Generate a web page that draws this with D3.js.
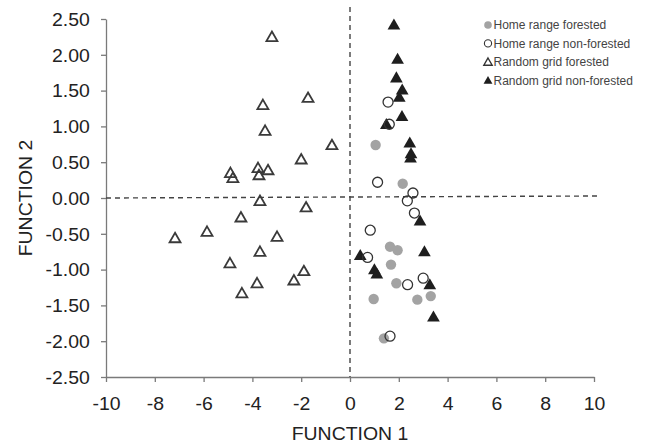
<!DOCTYPE html>
<html>
<head>
<meta charset="utf-8">
<script src="https://cdn.jsdelivr.net/npm/d3@7"></script>
<style>
  body { margin: 0; background: #fff; }
  svg { font-family: "Liberation Sans", Arial, sans-serif; }
</style>
</head>
<body>
<svg id="chart" width="648" height="444"></svg>
<script>
// donnees : [fonction 1, fonction 2]
const homeForested = [
  [1.05, 0.74], [2.16, 0.20], [1.64, -0.68], [1.95, -0.73], [1.68, -0.93],
  [1.90, -1.19], [0.97, -1.41], [2.76, -1.42], [3.31, -1.37], [1.39, -1.96]
];
const homeNonForested = [
  [1.56, 1.34], [1.61, 1.03], [1.13, 0.22], [2.58, 0.07], [2.35, -0.04],
  [2.64, -0.21], [0.83, -0.45], [0.72, -0.83], [3.00, -1.12], [2.36, -1.21],
  [1.64, -1.93]
];
const gridForested = [
  [-3.20, 2.25], [-3.57, 1.30], [-1.72, 1.40], [-3.48, 0.94], [-0.74, 0.74],
  [-2.00, 0.54], [-4.90, 0.35], [-4.80, 0.28], [-3.77, 0.42], [-3.36, 0.39],
  [-3.73, 0.32], [-3.69, -0.04], [-1.80, -0.13], [-4.47, -0.27], [-7.17, -0.56],
  [-5.86, -0.47], [-2.99, -0.54], [-3.69, -0.75], [-4.92, -0.91], [-1.89, -1.02],
  [-2.30, -1.15], [-3.81, -1.19], [-4.43, -1.33]
];
const gridNonForested = [
  [1.80, 2.42], [1.95, 1.94], [1.90, 1.68], [2.14, 1.51], [2.02, 1.41],
  [2.13, 1.14], [1.49, 1.03], [2.45, 0.77], [2.50, 0.62], [2.48, 0.56],
  [2.87, -0.32], [3.05, -0.75], [0.42, -0.80], [1.00, -1.00], [1.10, -1.06],
  [3.27, -1.21], [3.42, -1.66]
];
const xTicks = [-10, -8, -6, -4, -2, 0, 2, 4, 6, 8, 10];
const yTicks = [2.5, 2, 1.5, 1, 0.5, 0, -0.5, -1, -1.5, -2, -2.5];
const legendLabels = ["Home range forested", "Home range non-forested", "Random grid forested", "Random grid non-forested"];

const svg = d3.select("#chart");
const mLeft = 106, mRight = 594, mTop = 19, mBottom = 377;
const stretch = "scale(1.08,1)";   // le texte de l'original est un peu elargi

const x = d3.scaleLinear().domain([-10, 10]).range([mLeft, mRight]);
const y = d3.scaleLinear().domain([-2.5, 2.5]).range([mBottom, mTop]);

// format avec un tiret simple au lieu du signe moins unicode
const fmt = f => d => d3.format(f)(d).replace("\u2212", "-");

// axes
const xAxis = svg.append("g").attr("transform", `translate(0,${mBottom})`)
  .call(d3.axisBottom(x).tickValues(xTicks).tickSize(5).tickSizeOuter(0).tickFormat(fmt("d")));
const yAxis = svg.append("g").attr("transform", `translate(${mLeft},0)`)
  .call(d3.axisLeft(y).tickValues(yTicks).tickSize(5).tickSizeOuter(0).tickFormat(fmt(".2f")));

[xAxis, yAxis].forEach(a => {
  a.select(".domain").attr("stroke", "#7a7a7a").attr("stroke-width", 1.3);
  a.selectAll(".tick line").attr("stroke", "#7a7a7a").attr("stroke-width", 1.3);
  a.selectAll("text").attr("fill", "#222").style("font-size", "18px").attr("transform", stretch);
});
xAxis.selectAll("text").attr("y", 27).attr("dy", "0.35em");
yAxis.selectAll("text").attr("x", -15).attr("dy", "0.35em");

// lignes pointillees a zero
svg.append("line")
  .attr("x1", x(-10)).attr("x2", x(10) + 4).attr("y1", y(0)).attr("y2", y(0) - 2)
  .attr("stroke", "#444").attr("stroke-width", 1.4).attr("stroke-dasharray", "5,4");
svg.append("line")
  .attr("x1", x(0)).attr("x2", x(0)).attr("y1", y(2.5) - 12).attr("y2", y(-2.5))
  .attr("stroke", "#444").attr("stroke-width", 1.4).attr("stroke-dasharray", "5,4");

// titres des axes
svg.append("text").attr("transform", `translate(${x(0)},439.5) ${stretch}`).attr("text-anchor", "middle")
  .attr("fill", "#222").style("font-size", "18px").text("FUNCTION 1");
svg.append("text").attr("transform", `translate(32,${y(0)}) rotate(-90) ${stretch}`).attr("text-anchor", "middle")
  .attr("fill", "#222").style("font-size", "18px").text("FUNCTION 2");

const tri = d3.symbol().type(d3.symbolTriangle);

// points
svg.append("g").selectAll("path").data(gridForested).join("path")
  .attr("d", tri.size(52)())
  .attr("transform", d => `translate(${x(d[0])},${y(d[1]) + 1})`)
  .attr("fill", "none").attr("stroke", "#3a3a3a").attr("stroke-width", 1.8);

svg.append("g").selectAll("circle").data(homeForested).join("circle")
  .attr("cx", d => x(d[0])).attr("cy", d => y(d[1])).attr("r", 5.2)
  .attr("fill", "#a3a3a3");

svg.append("g").selectAll("path").data(gridNonForested).join("path")
  .attr("d", tri.size(70)())
  .attr("transform", d => `translate(${x(d[0])},${y(d[1]) + 1})`)
  .attr("fill", "#1e1e1e");

svg.append("g").selectAll("circle").data(homeNonForested).join("circle")
  .attr("cx", d => x(d[0])).attr("cy", d => y(d[1])).attr("r", 5)
  .attr("fill", "none").attr("stroke", "#333").attr("stroke-width", 1.3);

// legende
const leg = svg.append("g").attr("transform", "translate(488,25)");
legendLabels.forEach((lab, i) => {
  const g = leg.append("g").attr("transform", `translate(0,${i * 18.4})`);
  if (i === 0) g.append("circle").attr("r", 3.8).attr("fill", "#a3a3a3");
  if (i === 1) g.append("circle").attr("r", 3.6).attr("fill", "none").attr("stroke", "#333").attr("stroke-width", 1.1);
  if (i === 2) g.append("path").attr("d", tri.size(30)()).attr("transform", "translate(0,1)")
    .attr("fill", "none").attr("stroke", "#333").attr("stroke-width", 1.4);
  if (i === 3) g.append("path").attr("d", tri.size(34)()).attr("transform", "translate(0,1)").attr("fill", "#1e1e1e");
  g.append("text").attr("x", 5.5).attr("dy", "0.36em").attr("fill", "#444")
    .style("font-size", "12px").text(lab);
});
</script>
</body>
</html>
